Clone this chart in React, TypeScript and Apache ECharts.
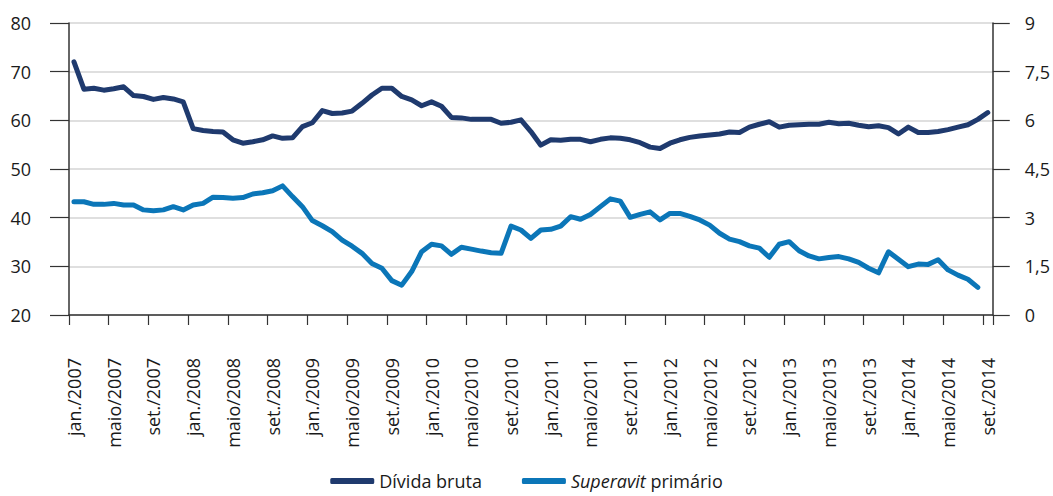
import React, { useEffect, useRef } from "react";
import * as echarts from "echarts";

const monthNames = ["jan.", "fev.", "mar.", "abr.", "maio", "jun.", "jul.", "ago.", "set.", "out.", "nov.", "dez."];
const years = [2007, 2008, 2009, 2010, 2011, 2012, 2013, 2014];
const categories: string[] = [];
years.forEach((y) => monthNames.forEach((m) => categories.push(`${m}/${y}`)));
const months = categories.slice(0, 93); // jan./2007 .. set./2014

const dividaBruta = [
  72.0, 66.4, 66.6, 66.2, 66.5, 66.9, 65.1, 64.9, 64.3, 64.7, 64.4, 63.8,
  58.3, 57.9, 57.7, 57.6, 56.0, 55.3, 55.6, 56.0, 56.8, 56.3, 56.4, 58.7,
  59.5, 62.0, 61.4, 61.5, 61.9, 63.5, 65.2, 66.6, 66.6, 64.9, 64.2, 63.0,
  63.8, 62.9, 60.6, 60.5, 60.2, 60.2, 60.2, 59.4, 59.6, 60.1, 57.7, 54.9,
  56.0, 55.9, 56.1, 56.1, 55.6, 56.1, 56.4, 56.3, 56.0, 55.4, 54.5, 54.2,
  55.3, 56.0, 56.5, 56.8, 57.0, 57.2, 57.6, 57.5, 58.6, 59.2, 59.7, 58.6,
  59.0, 59.1, 59.2, 59.2, 59.6, 59.3, 59.4, 59.0, 58.7, 58.9, 58.5, 57.2,
  58.6, 57.5, 57.5, 57.7, 58.1, 58.6, 59.1, 60.2, 61.6,
];

const superavitPrimario = [
  3.49, 3.49, 3.41, 3.41, 3.44, 3.39, 3.39, 3.24, 3.21, 3.24, 3.34, 3.24,
  3.39, 3.44, 3.63, 3.62, 3.60, 3.62, 3.73, 3.77, 3.83, 3.98, 3.65, 3.34,
  2.91, 2.75, 2.57, 2.31, 2.12, 1.90, 1.59, 1.44, 1.06, 0.92, 1.34, 1.95,
  2.18, 2.13, 1.87, 2.09, 2.03, 1.97, 1.92, 1.90, 2.74, 2.62, 2.36, 2.62,
  2.64, 2.74, 3.03, 2.95, 3.10, 3.34, 3.58, 3.51, 3.01, 3.10, 3.18, 2.93,
  3.13, 3.13, 3.04, 2.93, 2.77, 2.52, 2.34, 2.26, 2.13, 2.06, 1.78, 2.18,
  2.26, 1.98, 1.82, 1.73, 1.77, 1.80, 1.73, 1.62, 1.44, 1.30, 1.95, 1.72,
  1.49, 1.57, 1.56, 1.70, 1.39, 1.23, 1.10, 0.85, null,
];

const leftTicks = { min: 20, max: 80, interval: 10 };
const rightTicks = { min: 0, max: 9, interval: 1.5 };

const FONT = "'Open Sans', 'Noto Sans', sans-serif";
const FS = 18;
const TEXT = "#1a1a1a";
const AXIS = "#333333";
const DARK = "#1f3a6e";
const LIGHT = "#0b76b8";

export default function App() {
  const ref = useRef<HTMLDivElement>(null);
  useEffect(() => {
    if (!ref.current) return;
    const chart = echarts.init(ref.current, undefined, { renderer: "svg" });
    chart.setOption({
      animation: false,
      textStyle: { fontFamily: FONT },
      grid: { left: 69, right: 60, top: 23, bottom: 181 },
      legend: {
        top: 470,
        left: "center",
        padding: 0,
        itemWidth: 44,
        itemHeight: 6,
        itemGap: 40,
        icon: "roundRect",
        textStyle: {
          fontFamily: FONT,
          fontSize: FS,
          lineHeight: 22,
          color: TEXT,
          rich: { i: { fontStyle: "italic", fontFamily: FONT, fontSize: FS, lineHeight: 22, color: TEXT } },
        },
        formatter: (name: string) =>
          name === "Superavit primário" ? "{i|Superavit} primário" : name,
        data: ["Dívida bruta", "Superavit primário"],
      },
      xAxis: {
        type: "category",
        data: months,
        boundaryGap: true,
        axisLine: { show: true, lineStyle: { color: AXIS, width: 1.5 } },
        axisTick: { show: true, interval: 3, length: 10, inside: false, lineStyle: { color: AXIS, width: 1.2 } },
        axisLabel: {
          interval: 3,
          rotate: 90,
          margin: 43,
          fontSize: FS,
          color: TEXT,
          fontFamily: FONT,
        },
        splitLine: { show: false },
      },
      yAxis: [
        {
          type: "value",
          position: "left",
          min: leftTicks.min,
          max: leftTicks.max,
          interval: leftTicks.interval,
          axisLine: { show: true, lineStyle: { color: AXIS, width: 1.5 } },
          axisTick: { show: true, length: 19, lineStyle: { color: AXIS, width: 1.2 } },
          axisLabel: { margin: 38, fontSize: FS, color: TEXT, fontFamily: FONT },
          splitLine: { show: true, lineStyle: { color: "#d4d4d4", width: 1.5 } },
        },
        {
          type: "value",
          position: "right",
          min: rightTicks.min,
          max: rightTicks.max,
          interval: rightTicks.interval,
          axisLine: { show: true, lineStyle: { color: AXIS, width: 1.5 } },
          axisTick: { show: true, length: 17, lineStyle: { color: AXIS, width: 1.2 } },
          axisLabel: {
            margin: 32,
            fontSize: FS,
            color: TEXT,
            fontFamily: FONT,
            formatter: (v: number) => String(v).replace(".", ","),
          },
          splitLine: { show: false },
        },
      ],
      series: [
        {
          name: "Dívida bruta",
          type: "line",
          yAxisIndex: 0,
          data: dividaBruta,
          showSymbol: false,
          symbol: "none",
          color: DARK,
          lineStyle: { color: DARK, width: 5, cap: "round", join: "round" },
        },
        {
          name: "Superavit primário",
          type: "line",
          yAxisIndex: 1,
          data: superavitPrimario,
          showSymbol: false,
          symbol: "none",
          color: LIGHT,
          lineStyle: { color: LIGHT, width: 5, cap: "round", join: "round" },
        },
      ],
    });
    return () => chart.dispose();
  }, []);
  return (
    <div
      ref={ref}
      style={{ position: "fixed", left: 0, top: 0, width: 1053, height: 496, background: "#fff" }}
    />
  );
}
